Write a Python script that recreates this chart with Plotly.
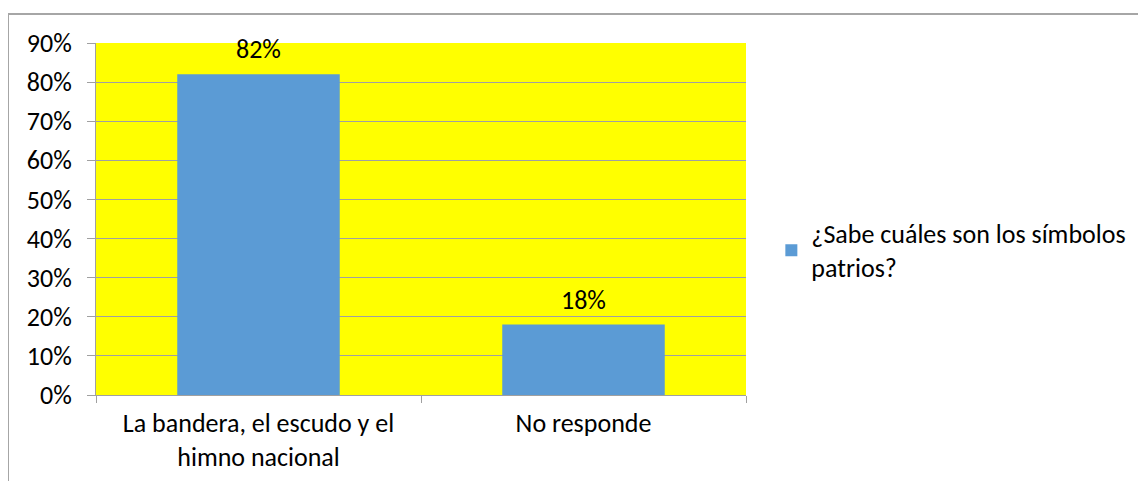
import plotly.graph_objects as go

categories = ["La bandera, el escudo y el<br>himno nacional", "No responde"]
values = [0.82, 0.18]
labels = ["82%", "18%"]
series_name = "¿Sabe cuáles son los símbolos<br>patrios?"
tick_vals = [0, 0.1, 0.2, 0.3, 0.4, 0.5, 0.6, 0.7, 0.8, 0.9]
tick_text = ["0%", "10%", "20%", "30%", "40%", "50%", "60%", "70%", "80%", "90%"]

FONT = "Carlito, Calibri, Lato, sans-serif"
GRID = "#A0A0A0"
FS = 26

fig = go.Figure()
fig.add_trace(go.Bar(
    x=categories, y=values, name=series_name,
    marker=dict(color="#5B9BD5", line=dict(width=0)),
    showlegend=True,
))

for c, v, t in zip(categories, values, labels):
    fig.add_annotation(x=c, y=v, text=t, showarrow=False, yanchor="middle",
                       yshift=25, font=dict(family=FONT, size=FS, color="#000000"))

fig.add_shape(type="rect", xref="paper", yref="paper",
              x0=-0.1354, y0=-0.5, x1=1.8, y1=1.0824,
              line=dict(color="#A6A6A6", width=2), layer="below")

fig.update_layout(
    width=1146, height=481,
    margin=dict(l=88, r=408, t=35, b=94, pad=0),
    paper_bgcolor="white", plot_bgcolor="#FFFF00",
    bargap=0.5,
    font=dict(family=FONT, size=FS, color="#000000"),
    showlegend=True,
    legend=dict(x=1.039, xanchor="left", y=0.411, yanchor="middle",
                font=dict(family=FONT, size=FS, color="#000000"),
                itemwidth=30, bgcolor="rgba(0,0,0,0)"),
    xaxis=dict(type="category", showline=True, linecolor=GRID, linewidth=1,
               ticks="outside", tickson="boundaries", ticklen=7, tickcolor=GRID,
               ticklabelstandoff=5,
               showgrid=False, tickfont=dict(family=FONT, size=FS, color="#000000")),
    yaxis=dict(range=[0, 0.9], tickvals=tick_vals, ticktext=tick_text,
               showline=True, linecolor=GRID, linewidth=1,
               ticks="outside", ticklen=8, tickcolor=GRID,
               ticklabelstandoff=10,
               showgrid=True, gridcolor=GRID, gridwidth=1, zeroline=False,
               tickfont=dict(family=FONT, size=FS, color="#000000")),
)

fig.write_html("out.html")
